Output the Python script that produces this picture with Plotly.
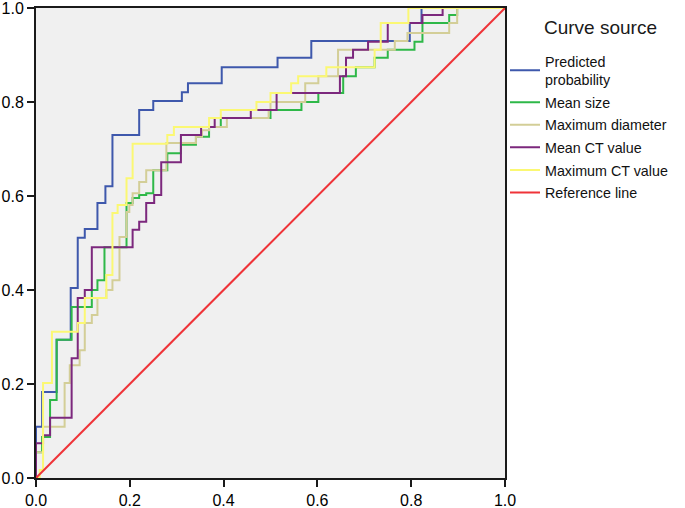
import plotly.graph_objects as go

# ROC curve vertices (false positive rate, true positive rate), step curves
pp_fpr = [0, 0, 0.013, 0.044, 0.074, 0.089, 0.104, 0.131, 0.148, 0.163, 0.220, 0.250,
          0.311, 0.324, 0.396, 0.515, 0.587, 0.797, 0.822, 1]
pp_tpr = [0, 0.109, 0.183, 0.294, 0.404, 0.511, 0.530, 0.585, 0.621, 0.730, 0.783, 0.802,
          0.821, 0.840, 0.874, 0.894, 0.930, 0.968, 1, 1]

ms_fpr = [0, 0, 0.013, 0.030, 0.044, 0.076, 0.119, 0.131, 0.146, 0.193, 0.206, 0.220,
          0.235, 0.250, 0.280, 0.309, 0.341, 0.369, 0.394, 0.500, 0.566, 0.602, 0.655,
          0.682, 0.722, 0.750, 0.807, 0.824, 0.881, 0.898, 1]
ms_tpr = [0, 0.055, 0.087, 0.166, 0.294, 0.364, 0.400, 0.421, 0.491, 0.585, 0.596, 0.602,
          0.606, 0.655, 0.691, 0.709, 0.726, 0.747, 0.766, 0.783, 0.800, 0.819, 0.855,
          0.874, 0.894, 0.911, 0.928, 0.968, 0.985, 1, 1]

md_fpr = [0, 0, 0.015, 0.061, 0.072, 0.093, 0.104, 0.119, 0.131, 0.150, 0.163, 0.178,
          0.193, 0.199, 0.206, 0.220, 0.235, 0.278, 0.341, 0.354, 0.369, 0.407, 0.496,
          0.500, 0.574, 0.602, 0.644, 0.765, 0.792, 0.881, 0.898, 1]
md_tpr = [0, 0.055, 0.109, 0.202, 0.240, 0.272, 0.330, 0.347, 0.383, 0.400, 0.421, 0.513,
          0.566, 0.581, 0.606, 0.630, 0.655, 0.713, 0.726, 0.740, 0.747, 0.766, 0.783,
          0.800, 0.840, 0.855, 0.911, 0.930, 0.947, 0.968, 1, 1]

mct_fpr = [0, 0, 0.015, 0.030, 0.076, 0.089, 0.104, 0.119, 0.206, 0.220, 0.235, 0.252,
           0.267, 0.309, 0.352, 0.381, 0.458, 0.513, 0.648, 0.661, 0.676, 0.708, 0.750,
           0.824, 0.867, 1]
mct_tpr = [0, 0.074, 0.091, 0.128, 0.255, 0.383, 0.400, 0.491, 0.528, 0.545, 0.585, 0.602,
           0.672, 0.730, 0.747, 0.766, 0.783, 0.819, 0.855, 0.894, 0.911, 0.928, 0.968,
           0.985, 1, 1]

xct_fpr = [0, 0.008, 0.015, 0.034, 0.089, 0.104, 0.150, 0.163, 0.174, 0.193, 0.206, 0.280,
           0.294, 0.369, 0.394, 0.470, 0.500, 0.544, 0.559, 0.619, 0.722, 0.735, 0.794, 1]
xct_tpr = [0, 0.017, 0.202, 0.311, 0.330, 0.383, 0.432, 0.564, 0.581, 0.638, 0.711, 0.730,
           0.747, 0.766, 0.783, 0.800, 0.819, 0.840, 0.855, 0.874, 0.911, 0.968, 1, 1]

ref_x = [0, 1]
ref_y = [0, 1]

legend_title = "Curve source"
tick_vals = [0, 0.2, 0.4, 0.6, 0.8, 1.0]
tick_text = ["0.0", "0.2", "0.4", "0.6", "0.8", "1.0"]

series = [
    ("Predicted<br>probability", pp_fpr, pp_tpr, "#3E58AC", "hv"),
    ("Mean size", ms_fpr, ms_tpr, "#2EB848", "hv"),
    ("Maximum diameter", md_fpr, md_tpr, "#D3CE97", "hv"),
    ("Mean CT value", mct_fpr, mct_tpr, "#7C287D", "hv"),
    ("Maximum CT value", xct_fpr, xct_tpr, "#FBF873", "hv"),
    ("Reference line", ref_x, ref_y, "#EF3338", "linear"),
]

fig = go.Figure()
for i, (name, xs, ys, color, shape) in enumerate(series):
    fig.add_trace(go.Scatter(x=xs, y=ys, mode="lines", name=name,
                             legendgroup=f"g{i}",
                             line=dict(color=color, width=2, shape=shape)))

font_family = "Liberation Sans, Arial, sans-serif"
axis_common = dict(range=[0, 1], tickvals=tick_vals, ticktext=tick_text,
                   showgrid=False, zeroline=False, showline=True, mirror=True,
                   linecolor="#1a1a1a", linewidth=2, ticks="outside", ticklen=7,
                   tickwidth=2, tickcolor="#1a1a1a", automargin=False,
                   ticklabeloverflow="allow",
                   tickfont=dict(family=font_family, size=16, color="#000"))

fig.update_layout(
    width=685, height=508,
    margin=dict(l=36, r=177, t=8, b=30),
    paper_bgcolor="white", plot_bgcolor="#F0F0F0",
    xaxis=axis_common,
    yaxis=axis_common,
    showlegend=True,
    legend=dict(xref="container", yref="container",
                x=505 / 685, xanchor="left", y=0.911, yanchor="top",
                bgcolor="rgba(0,0,0,0)",
                font=dict(family=font_family, size=14.3, color="#111"),
                traceorder="grouped", tracegroupgap=1),
    annotations=[dict(text=legend_title, xref="paper", yref="paper",
                      x=1.078, xanchor="left", y=0.958, yanchor="middle",
                      showarrow=False,
                      font=dict(family=font_family, size=19, color="#1a1a1a"))],
)

fig.write_html("out.html", config={"displayModeBar": False},
               post_script="document.body.style.margin='0';")
